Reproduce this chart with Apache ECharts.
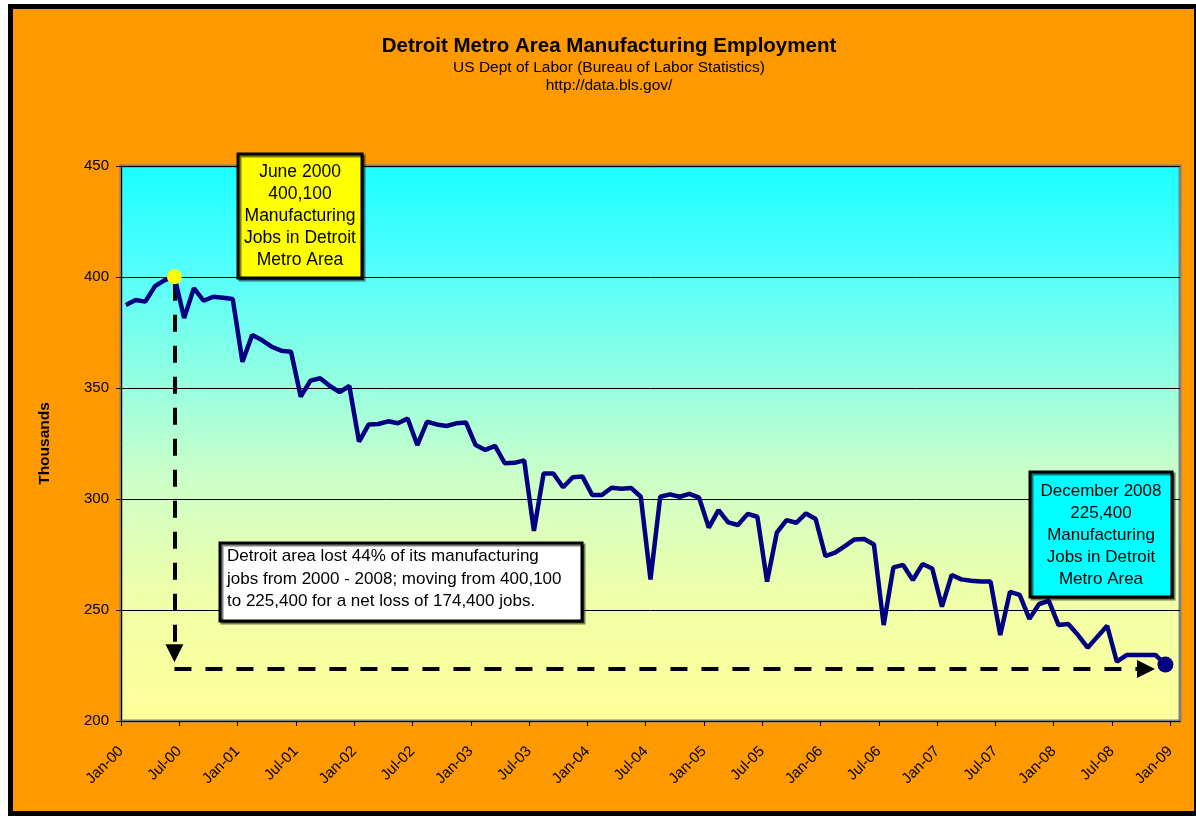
<!DOCTYPE html>
<html>
<head>
<meta charset="utf-8">
<title>Detroit Metro Area Manufacturing Employment</title>
<script src="https://cdn.jsdelivr.net/npm/echarts@6/dist/echarts.min.js"></script>
<style>
  html, body { margin: 0; padding: 0; background: #fff; }
  #chart { width: 1196px; height: 817px; }
</style>
</head>
<body>
<div id="chart"></div>
<script>
// monthly employment, thousands
const emp2000 = [387.4, 389.6, 388.9, 395.9, 398.6, 400.1, 381.5, 395.0, 389.3, 391.1, 390.7, 390.1]
const emp2001 = [361.8, 373.9, 371.6, 368.6, 366.8, 366.3, 346.1, 353.3, 354.4, 350.9, 348.1, 350.9]
const emp2002 = [325.8, 333.6, 333.8, 335.0, 334.1, 336.3, 324.3, 334.8, 333.6, 332.9, 334.1, 334.5]
const emp2003 = [324.3, 322.1, 323.9, 316.1, 316.3, 317.4, 285.6, 311.5, 311.5, 305.3, 309.8, 310.1]
const emp2004 = [301.8, 301.8, 305.1, 304.6, 305.0, 301.0, 263.8, 301.0, 302.1, 301.0, 302.3, 300.6]
const emp2005 = [287.1, 295.0, 289.5, 288.3, 293.3, 292.0, 262.8, 284.8, 290.5, 289.3, 293.5, 291.0]
const emp2006 = [274.3, 275.8, 278.8, 281.8, 282.0, 279.5, 243.2, 269.2, 270.3, 263.5, 270.7, 268.7]
const emp2007 = [251.5, 265.8, 263.8, 263.2, 262.8, 262.8, 238.7, 258.2, 256.8, 246.0, 252.7, 254.1]
const emp2008 = [243.2, 243.7, 238.7, 233.0, 238.0, 242.9, 226.7, 229.7, 229.7, 229.7, 229.7, 225.4]

const monthNames = ['Jan', 'Feb', 'Mar', 'Apr', 'May', 'Jun', 'Jul', 'Aug', 'Sep', 'Oct', 'Nov', 'Dec']
const years = ['00', '01', '02', '03', '04', '05', '06', '07', '08', '09']
const tickLabels = ['Jan-00', 'Jul-00', 'Jan-01', 'Jul-01', 'Jan-02', 'Jul-02', 'Jan-03', 'Jul-03', 'Jan-04',
  'Jul-04', 'Jan-05', 'Jul-05', 'Jan-06', 'Jul-06', 'Jan-07', 'Jul-07', 'Jan-08', 'Jul-08', 'Jan-09']

// one category per month, Jan-00 .. Jan-09 (the last one is empty)
const months = []
years.forEach(y => monthNames.forEach(m => months.push(m + '-' + y)))
months.length = 109

const values = [].concat(emp2000, emp2001, emp2002, emp2003, emp2004, emp2005, emp2006, emp2007, emp2008)

const peakMonth = 'Jun-00'
const lastMonth = 'Dec-08'
const arrowLevel = 223.4

const FONT = '"Liberation Sans", Arial, sans-serif'

const seriesData = values.map((v, i) => {
  if (months[i] === peakMonth) {
    return { value: v, symbol: 'circle', symbolSize: 15, itemStyle: { color: '#FFFF00' } }
  }
  if (months[i] === lastMonth) {
    return { value: v, symbol: 'circle', symbolSize: 16, itemStyle: { color: '#000080' } }
  }
  return v
})

const chart = echarts.init(document.getElementById('chart'))

const option = {
  backgroundColor: '#ffffff',
  animation: false,
  textStyle: { fontFamily: FONT },
  title: {
    left: 604,
    top: 31,
    textAlign: 'center',
    text: 'Detroit Metro Area Manufacturing Employment',
    textStyle: { fontFamily: FONT, fontSize: 20.5, fontWeight: 'bold', color: '#000' },
    subtext: 'US Dept of Labor (Bureau of Labor Statistics)\nhttp://data.bls.gov/',
    subtextStyle: { fontFamily: FONT, fontSize: 15.5, color: '#000', lineHeight: 18 },
    itemGap: 2
  },
  grid: {
    left: 121,
    right: 16,
    top: 166,
    bottom: 96,
    show: true,
    borderColor: '#808080',
    borderWidth: 3,
    backgroundColor: new echarts.graphic.LinearGradient(0, 0, 0, 1, [
      { offset: 0, color: '#1AFFFF' },
      { offset: 0.17, color: '#4DFFFF' },
      { offset: 0.56, color: '#CCFFC8' },
      { offset: 0.78, color: '#F0FFA8' },
      { offset: 1, color: '#FFFF99' }
    ])
  },
  xAxis: [
    {
      type: 'category',
      data: months,
      boundaryGap: true,
      show: false
    },
    {
      type: 'value',
      position: 'bottom',
      min: 0,
      max: 109,
      interval: 6,
      axisLine: { show: true, lineStyle: { color: '#000', width: 1 } },
      axisTick: { show: true, length: 5, lineStyle: { color: '#000' } },
      splitLine: { show: false },
      axisLabel: {
        rotate: 45,
        margin: 28,
        fontSize: 15,
        color: '#000',
        fontFamily: FONT,
        showMaxLabel: false,
        formatter: v => (v % 6 === 0 ? tickLabels[v / 6] : '')
      }
    }
  ],
  yAxis: {
    type: 'value',
    min: 200,
    max: 450,
    interval: 50,
    name: 'Thousands',
    nameLocation: 'middle',
    nameGap: 68,
    nameTextStyle: { fontFamily: FONT, fontSize: 15.5, fontWeight: 'bold', color: '#000' },
    axisLine: { show: true, lineStyle: { color: '#000', width: 1 } },
    axisTick: { show: true, length: 5, lineStyle: { color: '#000' } },
    splitLine: { show: true, lineStyle: { color: '#000', width: 1 } },
    axisLabel: { margin: 12, fontSize: 15, color: '#000', fontFamily: FONT }
  },
  series: [
    {
      name: 'Manufacturing Employment',
      type: 'line',
      xAxisIndex: 0,
      data: seriesData,
      symbol: 'none',
      lineStyle: { color: '#000080', width: 4.5 },
      itemStyle: { color: '#000080' },
      z: 5,
      markLine: {
        silent: true,
        symbol: ['none', 'triangle'],
        symbolSize: [18, 18],
        label: { show: false },
        lineStyle: { color: '#000', width: 4, type: [17, 14] },
        itemStyle: { color: '#000' },
        data: [
          [{ coord: [peakMonth, 397] }, { coord: [peakMonth, 230.5] }],
          [{ coord: [peakMonth, arrowLevel] }, { coord: ['Oct-08', arrowLevel] }]
        ]
      }
    }
  ],
  graphic: [
    {
      type: 'rect',
      z: -10,
      silent: true,
      shape: { x: 10.5, y: 6.5, width: 1186, height: 807 },
      style: { fill: '#FF9900', stroke: '#000', lineWidth: 5 }
    },
    {
      type: 'rect',
      z: 50,
      shape: { x: 238, y: 154, width: 124, height: 124 },
      style: { fill: '#FFFF00', stroke: '#000', lineWidth: 3, shadowColor: 'rgba(0,0,0,0.5)', shadowOffsetX: 2, shadowOffsetY: 2 }
    },
    {
      type: 'text',
      z: 51,
      x: 300,
      y: 216,
      style: {
        text: 'June 2000\n400,100\nManufacturing\nJobs in Detroit\nMetro Area',
        fontFamily: FONT, fontSize: 17.5, lineHeight: 22,
        fill: '#000', align: 'center', verticalAlign: 'middle'
      }
    },
    {
      type: 'rect',
      z: 50,
      shape: { x: 1030, y: 472, width: 142, height: 125 },
      style: { fill: '#00FFFF', stroke: '#000', lineWidth: 3, shadowColor: 'rgba(0,0,0,0.5)', shadowOffsetX: 2, shadowOffsetY: 2 }
    },
    {
      type: 'text',
      z: 51,
      x: 1101,
      y: 535,
      style: {
        text: 'December 2008\n225,400\nManufacturing\nJobs in Detroit\nMetro Area',
        fontFamily: FONT, fontSize: 17, lineHeight: 22,
        fill: '#000', align: 'center', verticalAlign: 'middle'
      }
    },
    {
      type: 'rect',
      z: 50,
      shape: { x: 220, y: 543, width: 362, height: 78 },
      style: { fill: '#FFFFFF', stroke: '#000', lineWidth: 3, shadowColor: 'rgba(0,0,0,0.5)', shadowOffsetX: 2, shadowOffsetY: 2 }
    },
    {
      type: 'text',
      z: 51,
      x: 227,
      y: 579,
      style: {
        text: 'Detroit area lost 44% of its manufacturing\njobs from 2000 - 2008; moving from 400,100\nto 225,400 for a net loss of 174,400 jobs.',
        fontFamily: FONT, fontSize: 17, lineHeight: 22.5,
        fill: '#000', align: 'left', verticalAlign: 'middle'
      }
    }
  ]
}

chart.setOption(option)
</script>
</body>
</html>
